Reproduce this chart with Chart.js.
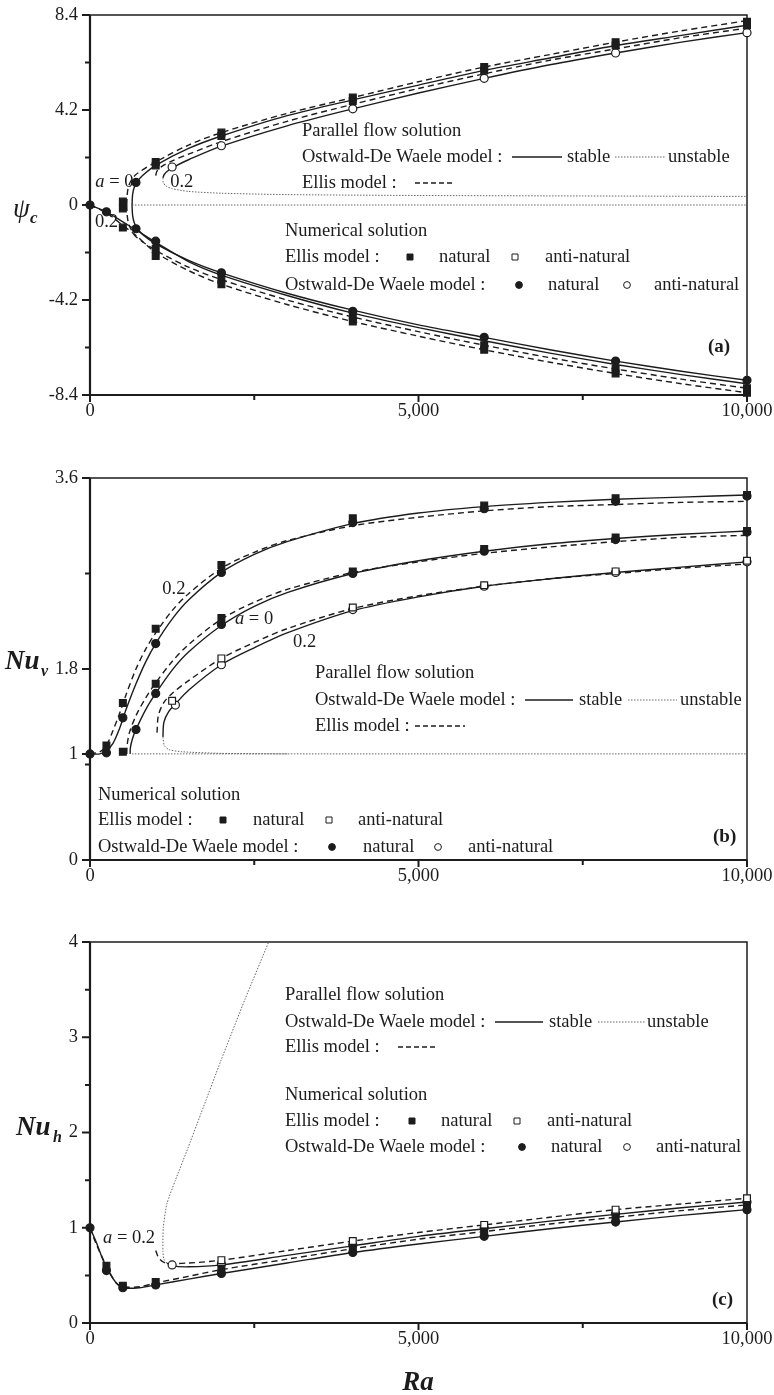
<!DOCTYPE html>
<html>
<head>
<meta charset="utf-8">
<script src="https://cdn.jsdelivr.net/npm/chart.js@4.4.0/dist/chart.umd.min.js"></script>
<style>
  body { margin: 0; background: #fff; }
  canvas { position: absolute; left: 0; }
</style>
</head>
<body>
<canvas id="chartA" width="774" height="440" style="top:0"></canvas>
<canvas id="chartB" width="774" height="455" style="top:440px"></canvas>
<canvas id="chartC" width="774" height="515" style="top:880px"></canvas>
<script>
// shared x axis (Ra)
const raTicks = [0, 5000, 10000];
const raLabels = ['0', '5,000', '10,000'];
const raMinor = [2500, 7500];

// ---- panel (a): psi_c ----
const psiTicks = [-8.4, -4.2, 0, 4.2, 8.4];
const psiLabels = ['-8.4', '-4.2', '0', '4.2', '8.4'];
const psiMinor = [-6.3, -2.1, 2.1, 6.3];

const psiOdwA0Up = [[640,0],[648,0.45],[670,0.75],[710,1.0],[800,1.3],[1000,1.75],[1500,2.5],[2000,3.05],[3000,3.95],[4000,4.65],[5000,5.3],[6000,5.95],[7000,6.5],[8000,7.05],[9000,7.5],[10000,7.95]];
const psiEllisA0Up = [[560,0],[566,0.45],[585,0.8],[620,1.05],[700,1.35],[1000,1.9],[1500,2.65],[2000,3.2],[3000,4.05],[4000,4.75],[5000,5.45],[6000,6.1],[7000,6.65],[8000,7.2],[9000,7.7],[10000,8.15]];
const psiOdwA2Anti = [[1110,1.2],[1130,1.35],[1200,1.55],[1300,1.72],[1500,2.0],[2000,2.6],[3000,3.5],[4000,4.25],[5000,4.95],[6000,5.6],[7000,6.2],[8000,6.72],[9000,7.2],[10000,7.62]];
const psiEllisA2Anti = [[1000,1.3],[1020,1.5],[1100,1.72],[1250,1.95],[1500,2.25],[2000,2.8],[3000,3.7],[4000,4.45],[5000,5.15],[6000,5.8],[7000,6.4],[8000,6.9],[9000,7.4],[10000,7.82]];
const psiOdwA2Unstable = [[1110,1.2],[1115,1.0],[1150,0.85],[1250,0.72],[1500,0.6],[2000,0.52],[3000,0.46],[5000,0.42],[7500,0.4],[10000,0.38]];
const psiOdwA0Unstable = [[640,0],[10000,0]];
const psiOdwA0Low = [[640,0],[648,-0.45],[670,-0.75],[710,-1.0],[800,-1.3],[1000,-1.72],[1500,-2.45],[2000,-3.0],[3000,-3.9],[4000,-4.65],[5000,-5.3],[6000,-5.85],[7000,-6.4],[8000,-6.9],[9000,-7.35],[10000,-7.75]];
const psiOdwA2Nat = [[0,0],[250,-0.3],[500,-0.75],[700,-1.1],[1000,-1.65],[1500,-2.5],[2000,-3.1],[3000,-4.0],[4000,-4.78],[5000,-5.42],[6000,-6.0],[7000,-6.55],[8000,-7.05],[9000,-7.5],[10000,-7.9]];
const psiEllisA0Low = [[560,0],[566,-0.45],[585,-0.8],[620,-1.05],[700,-1.4],[1000,-2.0],[1500,-2.75],[2000,-3.3],[3000,-4.2],[4000,-4.95],[5000,-5.6],[6000,-6.2],[7000,-6.75],[8000,-7.25],[9000,-7.7],[10000,-8.1]];
const psiEllisA2Nat = [[0,0],[250,-0.35],[500,-0.9],[700,-1.35],[1000,-2.1],[1500,-2.9],[2000,-3.5],[3000,-4.4],[4000,-5.15],[5000,-5.8],[6000,-6.4],[7000,-6.95],[8000,-7.45],[9000,-7.9],[10000,-8.3]];

const psiEllisNatPts = [[500,0.15],[500,-0.15],[500,-1.0],[1000,1.9],[1000,1.75],[1000,-1.95],[1000,-2.25],[2000,3.2],[2000,3.05],[2000,-3.25],[2000,-3.5],[4000,4.75],[4000,4.6],[4000,-4.95],[4000,-5.15],[6000,6.1],[6000,5.95],[6000,-6.2],[6000,-6.4],[8000,7.2],[8000,7.05],[8000,-7.25],[8000,-7.45],[10000,8.1],[10000,7.95],[10000,-8.1],[10000,-8.3]];
const psiOdwNatPts = [[0,0],[250,-0.3],[700,1.0],[700,-1.05],[1000,-1.6],[2000,-3.0],[4000,-4.7],[6000,-5.85],[8000,-6.9],[10000,-7.75]];
const psiOdwAntiPts = [[1250,1.68],[2000,2.62],[4000,4.25],[6000,5.6],[8000,6.72],[10000,7.62]];

// ---- panel (b): Nu_v ----
const nuvTicks = [0, 1, 1.8, 3.6];
const nuvLabels = ['0', '1', '1.8', '3.6'];
const nuvMinor = [0.9, 1, 2.7];

const nuvOdwA2Nat = [[0,1],[150,1.0],[250,1.03],[350,1.1],[450,1.24],[550,1.42],[700,1.66],[850,1.87],[1000,2.04],[1250,2.27],[1500,2.45],[2000,2.71],[2500,2.88],[3000,3.0],[4000,3.17],[5000,3.27],[6000,3.33],[7000,3.37],[8000,3.4],[9000,3.42],[10000,3.44]];
const nuvEllisA2Nat = [[0,1],[150,1.02],[250,1.08],[350,1.22],[450,1.38],[550,1.56],[700,1.8],[850,1.99],[1000,2.14],[1250,2.35],[1500,2.51],[2000,2.75],[2500,2.9],[3000,3.01],[4000,3.15],[5000,3.23],[6000,3.29],[7000,3.33],[8000,3.35],[9000,3.37],[10000,3.38]];
const nuvOdwA0 = [[610,1],[615,1.06],[650,1.15],[700,1.23],[850,1.42],[1000,1.57],[1250,1.79],[1500,1.96],[2000,2.21],[2500,2.39],[3000,2.52],[4000,2.7],[5000,2.82],[6000,2.91],[7000,2.98],[8000,3.03],[9000,3.07],[10000,3.1]];
const nuvEllisA0 = [[560,1],[565,1.08],[600,1.2],[700,1.36],[850,1.53],[1000,1.67],[1250,1.87],[1500,2.03],[2000,2.27],[2500,2.43],[3000,2.55],[4000,2.71],[5000,2.81],[6000,2.89],[7000,2.95],[8000,3.0],[9000,3.04],[10000,3.06]];
const nuvOdwA2Anti = [[1110,1.16],[1125,1.3],[1200,1.4],[1300,1.47],[1500,1.6],[2000,1.84],[2500,2.0],[3000,2.14],[4000,2.35],[5000,2.48],[6000,2.58],[7000,2.65],[8000,2.71],[9000,2.76],[10000,2.81]];
const nuvEllisA2Anti = [[1020,1.2],[1040,1.36],[1120,1.48],[1250,1.57],[1500,1.69],[2000,1.9],[2500,2.05],[3000,2.18],[4000,2.37],[5000,2.49],[6000,2.58],[7000,2.65],[8000,2.7],[9000,2.75],[10000,2.79]];
const nuvUnstable = [[1110,1.16],[1130,1.08],[1200,1.04],[1400,1.02],[2000,1.005],[3000,1.0]];
const nuvConduction = [[640,1],[10000,1]];

const nuvEllisNatPts = [[250,1.08],[500,1.48],[500,1.02],[1000,2.18],[1000,1.66],[2000,2.78],[2000,2.28],[4000,3.22],[4000,2.72],[6000,3.34],[6000,2.93],[8000,3.41],[8000,3.04],[10000,3.44],[10000,3.1]];
const nuvOdwNatPts = [[0,1],[250,1.01],[500,1.34],[700,1.23],[1000,2.04],[1000,1.57],[2000,2.71],[2000,2.22],[4000,3.18],[4000,2.7],[6000,3.31],[6000,2.91],[8000,3.38],[8000,3.02],[10000,3.43],[10000,3.09]];
const nuvEllisAntiPts = [[1250,1.5],[2000,1.9],[4000,2.38],[6000,2.59],[8000,2.72],[10000,2.82]];
const nuvOdwAntiPts = [[1300,1.46],[2000,1.84],[4000,2.36],[6000,2.58],[8000,2.71],[10000,2.81]];

// ---- panel (c): Nu_h ----
const nuhTicks = [0, 1, 2, 3, 4];
const nuhLabels = ['0', '1', '2', '3', '4'];
const nuhMinor = [0.5, 1.5, 2.5, 3.5];

const nuhOdwNat = [[0,1],[100,0.84],[200,0.66],[300,0.52],[400,0.42],[500,0.37],[750,0.37],[1000,0.4],[1500,0.46],[2000,0.52],[3000,0.63],[4000,0.74],[5000,0.83],[6000,0.91],[7000,0.99],[8000,1.06],[9000,1.13],[10000,1.19]];
const nuhEllisNat = [[0,1],[100,0.82],[200,0.67],[300,0.53],[400,0.42],[500,0.38],[750,0.38],[1000,0.42],[1500,0.49],[2000,0.56],[3000,0.67],[4000,0.78],[5000,0.88],[6000,0.96],[7000,1.04],[8000,1.11],[9000,1.18],[10000,1.24]];
const nuhOdwAnti = [[1170,0.63],[1250,0.6],[1500,0.59],[2000,0.61],[3000,0.71],[4000,0.81],[5000,0.91],[6000,0.99],[7000,1.07],[8000,1.14],[9000,1.21],[10000,1.27]];
const nuhEllisAnti = [[1000,0.76],[1050,0.68],[1150,0.63],[1500,0.63],[2000,0.66],[3000,0.76],[4000,0.86],[5000,0.95],[6000,1.03],[7000,1.11],[8000,1.19],[9000,1.25],[10000,1.31]];
const nuhUnstable = [[1170,0.63],[1125,0.67],[1110,0.75],[1115,1.0],[1170,1.25],[1300,1.5],[1470,1.8],[1690,2.2],[1990,2.75],[2360,3.4],[2720,4.0]];

const nuhEllisNatPts = [[250,0.6],[500,0.39],[1000,0.43],[2000,0.57],[4000,0.79],[6000,0.96],[8000,1.11],[10000,1.24]];
const nuhOdwNatPts = [[0,1],[250,0.55],[500,0.37],[1000,0.4],[2000,0.52],[4000,0.74],[6000,0.91],[8000,1.06],[10000,1.19]];
const nuhEllisAntiPts = [[2000,0.66],[4000,0.86],[6000,1.03],[8000,1.19],[10000,1.31]];
const nuhOdwAntiPts = [[1250,0.61],[2000,0.62],[4000,0.82],[6000,1.0],[8000,1.15],[10000,1.27]];

const serif = '"Liberation Serif", "Times New Roman", serif';
const ink = '#1c1c1c';
const textFont = '18.5px ' + serif;

function pts(pairs) {
    return pairs.map(p => ({ x: p[0], y: p[1] }));
}

// parallel flow curves: solid = stable, dash = Ellis, dot = unstable
function curve(pairs, kind) {
    const ds = {
        data: pts(pairs), showLine: true, pointRadius: 0, borderColor: ink,
        borderWidth: 1.4, tension: 0.3, fill: false, order: 2
    };
    if (kind === 'dash') ds.borderDash = [6, 4];
    if (kind === 'dot') {
        ds.borderDash = [1.5, 1.5];
        ds.borderWidth = 1;
        ds.borderColor = '#666';
        ds.tension = 0.2;
    }
    return ds;
}

// numerical solutions
function marks(pairs, style, open) {
    return {
        data: pts(pairs), showLine: false, pointStyle: style,
        pointRadius: style === 'rect' ? 4.8 : 4,
        backgroundColor: open ? '#fff' : ink, borderColor: ink, borderWidth: 1.2,
        clip: false, order: 0
    };
}

function text(ctx, str, x, y, font, align) {
    ctx.font = font || textFont;
    ctx.fillStyle = ink;
    ctx.textAlign = align || 'left';
    ctx.textBaseline = 'middle';
    ctx.fillText(str, x, y);
}

function sampleLine(ctx, x1, x2, y, kind) {
    ctx.save();
    ctx.beginPath();
    ctx.lineWidth = kind === 'dot' ? 1 : 1.3;
    ctx.strokeStyle = kind === 'dot' ? '#666' : ink;
    if (kind === 'dash') ctx.setLineDash([5, 3]);
    if (kind === 'dot') ctx.setLineDash([1.5, 1.5]);
    ctx.moveTo(x1, y);
    ctx.lineTo(x2, y);
    ctx.stroke();
    ctx.restore();
}

function sampleMark(ctx, x, y, style, open) {
    ctx.save();
    ctx.beginPath();
    if (style === 'rect') ctx.rect(x - 3, y - 3, 6, 6);
    else ctx.arc(x, y, 3.4, 0, Math.PI * 2);
    ctx.fillStyle = open ? '#fff' : ink;
    ctx.fill();
    ctx.lineWidth = 1;
    ctx.strokeStyle = ink;
    ctx.stroke();
    ctx.restore();
}

// "a = 0" style label with italic a, placed in data coordinates
function aLabel(ctx, xs, ys, ra, v, rest) {
    const x = xs.getPixelForValue(ra), y = ys.getPixelForValue(v);
    text(ctx, 'a', x, y, 'italic 18.5px ' + serif);
    ctx.font = 'italic 18.5px ' + serif;
    const w = ctx.measureText('a').width;
    text(ctx, rest, x + w, y);
}

function drawLegend(ctx, L) {
    text(ctx, 'Parallel flow solution', L.px, L.py[0]);
    text(ctx, 'Ostwald-De Waele model :', L.px, L.py[1]);
    sampleLine(ctx, L.solid[0], L.solid[1], L.py[1], 'solid');
    text(ctx, 'stable', L.stable, L.py[1]);
    sampleLine(ctx, L.dot[0], L.dot[1], L.py[1], 'dot');
    text(ctx, 'unstable', L.unstable, L.py[1]);
    text(ctx, 'Ellis model :', L.px, L.py[2]);
    sampleLine(ctx, L.dash[0], L.dash[1], L.py[2], 'dash');

    text(ctx, 'Numerical solution', L.nx, L.ny[0]);
    text(ctx, 'Ellis model :', L.nx, L.ny[1]);
    sampleMark(ctx, L.sq, L.ny[1], 'rect', false);
    text(ctx, 'natural', L.nat1, L.ny[1]);
    sampleMark(ctx, L.osq, L.ny[1], 'rect', true);
    text(ctx, 'anti-natural', L.anti1, L.ny[1]);
    text(ctx, 'Ostwald-De Waele model :', L.nx, L.ny[2]);
    sampleMark(ctx, L.ci, L.ny[2], 'circle', false);
    text(ctx, 'natural', L.nat2, L.ny[2]);
    sampleMark(ctx, L.oci, L.ny[2], 'circle', true);
    text(ctx, 'anti-natural', L.anti2, L.ny[2]);

    text(ctx, L.tag[2], L.tag[0], L.tag[1], 'bold 19px ' + serif);
}

function figurePlugin(cfg) {
    return {
        id: 'figure',
        beforeDatasetsDraw(chart) {
            const ctx = chart.ctx, a = chart.chartArea;
            const xs = chart.scales.x, ys = chart.scales.y;
            ctx.save();
            ctx.strokeStyle = ink;
            ctx.lineWidth = 1.5;
            ctx.strokeRect(a.left, a.top, a.right - a.left, a.bottom - a.top);
            ctx.lineWidth = 2.2;
            ctx.beginPath();
            ctx.moveTo(a.left, a.top);
            ctx.lineTo(a.left, a.bottom);
            ctx.lineTo(a.right, a.bottom);
            ctx.stroke();
            // tick marks, major longer than minor
            ctx.lineWidth = 2;
            ctx.beginPath();
            cfg.yTicks.forEach(v => {
                const y = ys.getPixelForValue(v);
                ctx.moveTo(a.left - 8, y); ctx.lineTo(a.left, y);
            });
            cfg.yMinor.forEach(v => {
                const y = ys.getPixelForValue(v);
                ctx.moveTo(a.left - 5, y); ctx.lineTo(a.left, y);
            });
            raTicks.forEach(v => {
                const x = xs.getPixelForValue(v);
                ctx.moveTo(x, a.bottom); ctx.lineTo(x, a.bottom + 7);
            });
            raMinor.forEach(v => {
                const x = xs.getPixelForValue(v);
                ctx.moveTo(x, a.bottom); ctx.lineTo(x, a.bottom + 5);
            });
            ctx.stroke();
            ctx.restore();
        },
        afterDraw(chart) {
            const ctx = chart.ctx;
            const xs = chart.scales.x, ys = chart.scales.y;
            ctx.save();
            drawLegend(ctx, cfg.legend);
            cfg.extra(ctx, xs, ys);
            ctx.restore();
        }
    };
}

function makeChart(id, cfg) {
    const tickFont = { family: serif, size: 18.5 };
    return new Chart(document.getElementById(id), {
        type: 'scatter',
        data: { datasets: cfg.datasets },
        options: {
            responsive: false,
            animation: false,
            events: [],
            layout: { padding: { top: cfg.top, right: 27, left: 0, bottom: 0 } },
            plugins: { legend: { display: false }, tooltip: { enabled: false } },
            scales: {
                x: {
                    type: 'linear', min: 0, max: 10000,
                    grid: { display: false, drawTicks: false },
                    border: { display: false },
                    ticks: {
                        padding: 5, font: tickFont, color: ink, autoSkip: false, maxRotation: 0,
                        callback: (v, i) => raLabels[i]
                    },
                    afterBuildTicks: s => { s.ticks = raTicks.map(v => ({ value: v })); },
                    afterFit: s => {
                        s.height = cfg.height - cfg.bottom;
                        s.paddingLeft = 0;
                        s.paddingRight = 0;
                    }
                },
                y: {
                    type: 'linear', min: cfg.yMin, max: cfg.yMax,
                    grid: { display: false, drawTicks: false },
                    border: { display: false },
                    ticks: {
                        padding: 12, font: tickFont, color: ink, autoSkip: false,
                        callback: (v, i) => cfg.yLabels[i]
                    },
                    afterBuildTicks: s => { s.ticks = cfg.yTicks.map(v => ({ value: v })); },
                    afterFit: s => {
                        s.width = 90;
                        s.paddingTop = 0;
                        s.paddingBottom = 0;
                    }
                }
            }
        },
        plugins: [figurePlugin(cfg)]
    });
}

// panel (a)
makeChart('chartA', {
    height: 440, top: 15, bottom: 395, yMin: -8.4, yMax: 8.4,
    yTicks: psiTicks, yLabels: psiLabels, yMinor: psiMinor,
    datasets: [
        marks(psiEllisNatPts, 'rect', false),
        marks(psiOdwNatPts, 'circle', false),
        marks(psiOdwAntiPts, 'circle', true),
        curve(psiOdwA0Up, 'solid'),
        curve(psiEllisA0Up, 'dash'),
        curve(psiOdwA2Anti, 'solid'),
        curve(psiEllisA2Anti, 'dash'),
        curve(psiOdwA2Unstable, 'dot'),
        curve(psiOdwA0Unstable, 'dot'),
        curve(psiOdwA0Low, 'solid'),
        curve(psiOdwA2Nat, 'solid'),
        curve(psiEllisA0Low, 'dash'),
        curve(psiEllisA2Nat, 'dash')
    ],
    legend: {
        px: 302, py: [131, 157, 183], solid: [512, 562], stable: 567, dot: [615, 665], unstable: 668, dash: [415, 452],
        nx: 285, ny: [231, 257, 285], sq: 410, nat1: 439, osq: 515, anti1: 545, ci: 519, nat2: 548, oci: 627, anti2: 654,
        tag: [708, 347, '(a)']
    },
    extra: (ctx, xs, ys) => {
        aLabel(ctx, xs, ys, 80, 1.0, ' = 0');
        text(ctx, '0.2', xs.getPixelForValue(1220), ys.getPixelForValue(1.0));
        text(ctx, '0.2', xs.getPixelForValue(76), ys.getPixelForValue(-0.75));
        text(ctx, 'ψ', 13, 210, 'italic 27px ' + serif);
        text(ctx, 'c', 30, 219, 'bold italic 17px ' + serif);
    }
});

// panel (b)
makeChart('chartB', {
    height: 455, top: 38, bottom: 420, yMin: 0, yMax: 3.6,
    yTicks: nuvTicks, yLabels: nuvLabels, yMinor: nuvMinor,
    datasets: [
        marks(nuvEllisNatPts, 'rect', false),
        marks(nuvOdwNatPts, 'circle', false),
        marks(nuvEllisAntiPts, 'rect', true),
        marks(nuvOdwAntiPts, 'circle', true),
        curve(nuvOdwA2Nat, 'solid'),
        curve(nuvEllisA2Nat, 'dash'),
        curve(nuvOdwA0, 'solid'),
        curve(nuvEllisA0, 'dash'),
        curve(nuvOdwA2Anti, 'solid'),
        curve(nuvEllisA2Anti, 'dash'),
        curve(nuvUnstable, 'dot'),
        curve(nuvConduction, 'dot')
    ],
    legend: {
        px: 315, py: [233, 260, 286], solid: [525, 573], stable: 579, dot: [628, 677], unstable: 680, dash: [415, 465],
        nx: 98, ny: [355, 380, 407], sq: 223, nat1: 253, osq: 329, anti1: 358, ci: 332, nat2: 363, oci: 438, anti2: 468,
        tag: [713, 397, '(b)']
    },
    extra: (ctx, xs, ys) => {
        text(ctx, '0.2', xs.getPixelForValue(1100), ys.getPixelForValue(2.55));
        aLabel(ctx, xs, ys, 2207, 2.27, ' = 0');
        text(ctx, '0.2', xs.getPixelForValue(3090), ys.getPixelForValue(2.05));
        text(ctx, 'Nu', 5, 222, 'bold italic 27px ' + serif);
        text(ctx, 'v', 41, 232, 'bold italic 16px ' + serif);
    }
});

// panel (c)
makeChart('chartC', {
    height: 515, top: 62, bottom: 443, yMin: 0, yMax: 4,
    yTicks: nuhTicks, yLabels: nuhLabels, yMinor: nuhMinor,
    datasets: [
        marks(nuhEllisNatPts, 'rect', false),
        marks(nuhOdwNatPts, 'circle', false),
        marks(nuhEllisAntiPts, 'rect', true),
        marks(nuhOdwAntiPts, 'circle', true),
        curve(nuhOdwNat, 'solid'),
        curve(nuhEllisNat, 'dash'),
        curve(nuhOdwAnti, 'solid'),
        curve(nuhEllisAnti, 'dash'),
        curve(nuhUnstable, 'dot')
    ],
    legend: {
        px: 285, py: [115, 142, 167], solid: [495, 543], stable: 549, dot: [598, 645], unstable: 647, dash: [398, 435],
        nx: 285, ny: [215, 241, 267], sq: 412, nat1: 441, osq: 517, anti1: 547, ci: 522, nat2: 551, oci: 627, anti2: 656,
        tag: [712, 420, '(c)']
    },
    extra: (ctx, xs, ys) => {
        aLabel(ctx, xs, ys, 198, 0.89, ' = 0.2');
        text(ctx, 'Nu', 16, 248, 'bold italic 27px ' + serif);
        text(ctx, 'h', 53, 258, 'bold italic 16px ' + serif);
        text(ctx, 'Ra', 418, 503, 'bold italic 27px ' + serif, 'center');
    }
});
</script>
</body>
</html>
